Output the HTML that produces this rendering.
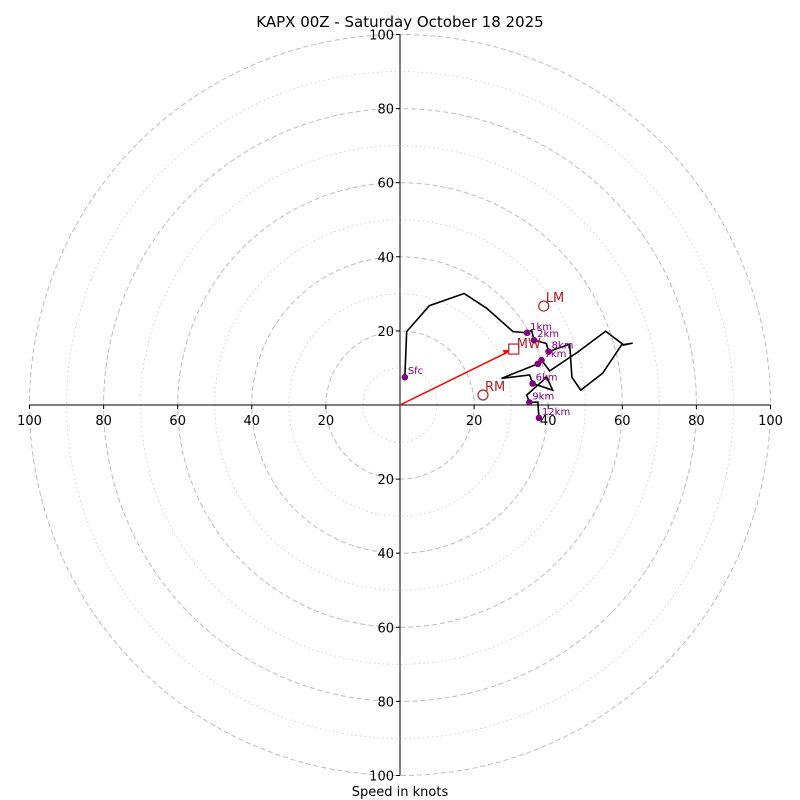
<!DOCTYPE html>
<html><head><meta charset="utf-8"><style>
body{margin:0;background:#fff;}
svg{display:block;font-family:"DejaVu Sans","Liberation Sans",sans-serif;}
</style></head><body>
<svg id="chart" width="800" height="800">
<text x="400" y="27" font-size="15" text-anchor="middle">KAPX 00Z - Saturday October 18 2025</text>
<text x="400" y="796" font-size="13" text-anchor="middle">Speed in knots</text>
</svg>
<script>
const ringMajor=[20,40,60,80,100];
const ringMinor=[10,30,50,70,90];
const tickVals=[20,40,60,80,100];
const pathU=[1.3,1.6,1.8,7.9,17.3,23.4,30.5,34.3,35.5,36.2,39.5,40.1,45.8,46.4,48.8,54.7,59.8,62.8,60.4,55.5,48,40.4,38.2,37.2,27.4,35,35.8,41.2,39.6,34.2,34.9,37.2,37.5];
const pathV=[7.5,14.8,19.8,26.8,30.1,26.1,19.8,19.5,20.2,17.5,16.6,14.4,16.4,7.5,4.0,8.6,16.2,16.7,16.2,19.9,14.3,9.2,12.1,11.1,7.2,8.1,5.8,4.0,7.5,2.7,0.7,0.8,-3.5];
const dotLabels=["Sfc","1km","2km","8km","7km","","6km","9km","12km"];
const dotU=[1.3,34.3,36.2,40.1,38.2,37.2,35.8,34.9,37.5];
const dotV=[7.5,19.5,17.5,14.4,12.1,11.1,5.8,0.7,-3.5];
const mwU=30.7, mwV=15.1, lmU=38.8, lmV=26.7, rmU=22.4, rmV=2.7;
const cx=400, cy=405, k=3.705;
const X=u=>cx+u*k, Y=v=>cy-v*k;
const svg=document.getElementById('chart');
const NS='http://www.w3.org/2000/svg';
function mk(t,a){const e=document.createElementNS(NS,t);for(const n in a)e.setAttribute(n,a[n]);svg.appendChild(e);return e;}
ringMinor.forEach(r=>{const c=mk('circle',{cx:cx,cy:cy,r:r*k,fill:'none',stroke:'#d3d3d3','stroke-dasharray':'1.5,3'});

});
ringMajor.forEach(r=>{const c=mk('circle',{cx:cx,cy:cy,r:r*k,fill:'none',stroke:'#bdbdbd','stroke-dasharray':'5,3'});

});
let a=mk('line',{x1:X(-100),y1:cy,x2:X(100),y2:cy,stroke:'#000'});


a=mk('line',{x1:cx,y1:Y(100),x2:cx,y2:Y(-100),stroke:'#000'});


tickVals.forEach(v=>{[1,-1].forEach(s=>{
 mk('line',{x1:X(s*v),y1:cy,x2:X(s*v),y2:cy+4,stroke:'#000'});
 let t=mk('text',{x:X(s*v),y:cy+20,'font-size':13,'text-anchor':'middle'});t.textContent=v;
 
 
 mk('line',{x1:cx-4,y1:Y(s*v),x2:cx,y2:Y(s*v),stroke:'#000'});
 t=mk('text',{x:cx-6,y:Y(s*v)+5,'font-size':13,'text-anchor':'end'});t.textContent=v;
 
 
});});
let p=mk('polyline',{points:pathU.map((u,i)=>X(u)+','+Y(pathV[i])).join(' '),fill:'none',stroke:'#000','stroke-width':1.6});


let ar=mk('line',{x1:cx,y1:cy,x2:X(mwU)-6,y2:Y(mwV)+3,stroke:'red','stroke-width':1.5});


let hd=mk('polygon',{points:`${X(mwU)-4},${Y(mwV)+1} ${X(mwU)-11},${Y(mwV)+1} ${X(mwU)-9},${Y(mwV)+6}`,fill:'red'});


let sq=mk('rect',{x:X(mwU)-5,y:Y(mwV)-5,width:10,height:10,fill:'none',stroke:'#b22222','stroke-width':1.2});


let tt=mk('text',{x:X(mwU)+3,y:Y(mwV)-1,'font-size':13,fill:'#b22222'});tt.textContent='MW';


[[lmU,lmV,'LM'],[rmU,rmV,'RM']].forEach(m=>{
 let c=mk('circle',{cx:X(m[0]),cy:Y(m[1]),r:5,fill:'none',stroke:'#b22222','stroke-width':1.2});
 
 
 let t=mk('text',{x:X(m[0])+2,y:Y(m[1])-4,'font-size':13,fill:'#b22222'});t.textContent=m[2];
 
 
});
dotU.forEach((u,i)=>{
 let c=mk('circle',{cx:X(u),cy:Y(dotV[i]),r:3.3,fill:'purple'});
 
 
 if(dotLabels[i]){let t=mk('text',{x:X(u)+3,y:Y(dotV[i])-3,'font-size':10,fill:'purple'});t.textContent=dotLabels[i];
 
 }
});
</script>
</body></html>
